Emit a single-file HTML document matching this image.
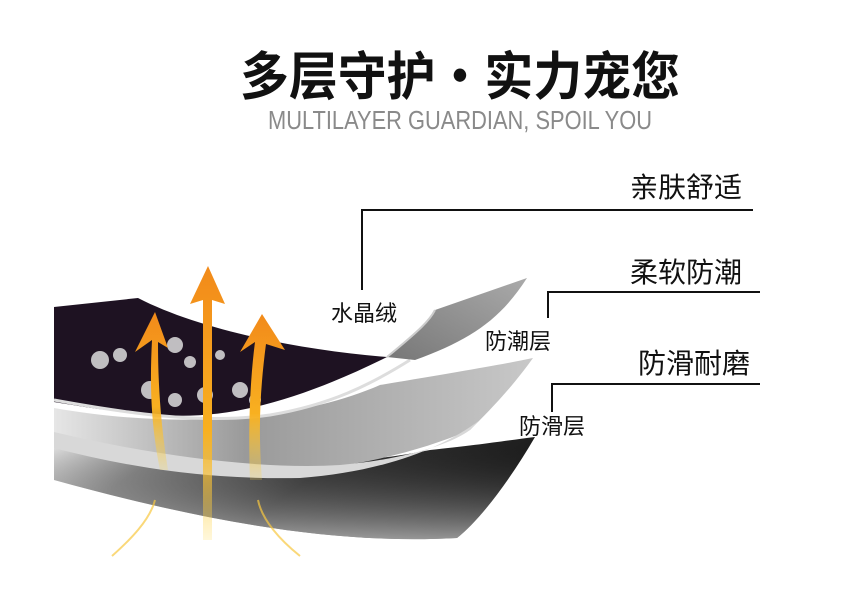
<!DOCTYPE html>
<html><head><meta charset="utf-8"><style>html,body{margin:0;padding:0;background:#fff;width:865px;height:590px;overflow:hidden}</style></head>
<body>
<svg width="865" height="590" viewBox="0 0 865 590" xmlns="http://www.w3.org/2000/svg">
<defs>
<linearGradient id="dk" x1="0" y1="0" x2="1" y2="0.3">
<stop offset="0" stop-color="#f4f4f4"/><stop offset="0.25" stop-color="#888"/><stop offset="0.6" stop-color="#333"/><stop offset="1" stop-color="#1a1a1a"/></linearGradient>
<linearGradient id="dkv" x1="0" y1="0" x2="0" y2="1">
<stop offset="0" stop-color="#000" stop-opacity="0"/><stop offset="1" stop-color="#fff" stop-opacity="0.9"/></linearGradient>
<linearGradient id="mg" x1="0" y1="0" x2="1" y2="0">
<stop offset="0" stop-color="#e6e6e6"/><stop offset="0.4" stop-color="#9a9a9a"/><stop offset="1" stop-color="#c8c8c8"/></linearGradient>
<linearGradient id="fl" x1="0" y1="1" x2="1" y2="0">
<stop offset="0" stop-color="#777"/><stop offset="1" stop-color="#aaa"/></linearGradient>
<linearGradient id="ar" x1="0" y1="1" x2="0" y2="0">
<stop offset="0" stop-color="#ffd84a" stop-opacity="0.2"/><stop offset="0.4" stop-color="#f8b020"/><stop offset="1" stop-color="#f28a1a"/></linearGradient>
</defs>
<text x="240" y="95" textLength="440" lengthAdjust="spacingAndGlyphs" font-family="'Noto Sans CJK SC',sans-serif" font-weight="bold" font-size="52" fill="#111">多层守护•实力宠您</text>
<text x="268" y="129" textLength="384" lengthAdjust="spacingAndGlyphs" font-family="'Liberation Sans',sans-serif" font-size="26" fill="#8a8a8a">MULTILAYER GUARDIAN, SPOIL YOU</text>

<path d="M54 440 C200 470 330 470 430 450 C480 445 510 440 535 437 C510 480 480 520 457 538 C330 545 200 520 54 480 Z" fill="url(#dk)"/>
<path d="M54 440 C200 470 330 470 430 450 C480 445 510 440 535 437 C510 480 480 520 457 538 C330 545 200 520 54 480 Z" fill="url(#dkv)" opacity="0.6"/>
<path d="M54 408 C180 430 300 420 380 385 C440 375 500 365 533 358 C510 390 490 410 470 430 C400 460 300 480 200 470 C140 465 90 452 54 445 Z" fill="url(#mg)"/>
<path d="M54 432 C150 455 260 470 340 465 C400 460 450 445 470 430 L480 420 C440 450 380 472 300 478 C200 480 120 465 54 448 Z" fill="#d8d8d8"/>
<path d="M54 307 L138 298 C200 330 300 350 387 357 C300 400 230 420 160 415 C110 412 80 406 54 402 Z" fill="#1e1222"/>
<path d="M54 400 C120 412 200 425 270 415 C330 405 370 385 410 360" stroke="#ddd" stroke-width="3" fill="none"/>
<path d="M387 357 C420 330 430 320 435 310 L527 278 C500 320 470 340 415 360 Z" fill="url(#fl)"/>
<path d="M387 357 C420 330 430 320 435 310" stroke="#ccc" stroke-width="2" fill="none"/>
<g fill="#ddd" opacity="0.85">
<circle cx="100" cy="360" r="9"/><circle cx="120" cy="355" r="7"/><circle cx="175" cy="345" r="8"/><circle cx="190" cy="362" r="6"/><circle cx="150" cy="390" r="9"/><circle cx="175" cy="400" r="7"/><circle cx="205" cy="395" r="8"/><circle cx="240" cy="390" r="8"/><circle cx="255" cy="400" r="6"/><circle cx="220" cy="355" r="5"/>
</g>
<g fill="url(#ar)">
<path d="M160 470 C150 420 150 380 152 340 L135 352 L155 312 L168 348 L158 342 C158 380 160 420 168 470 Z"/>
<path d="M203 540 L203 300 L190 304 L208 266 L225 304 L212 300 L212 540 Z"/>
<path d="M250 480 C248 430 250 380 255 342 L240 352 L262 314 L285 350 L266 344 C260 390 258 430 262 480 Z"/>
</g>
<path d="M155 500 C150 520 130 540 112 556" stroke="#f8c840" stroke-width="2" fill="none" opacity="0.7"/>
<path d="M258 500 C262 520 280 540 300 556" stroke="#f8c840" stroke-width="2" fill="none" opacity="0.7"/>

<g stroke="#111" stroke-width="2" fill="none">
<path d="M753 210 L362 210 L362 290"/>
<path d="M760 292 L548 292 L548 318"/>
<path d="M760 384 L552 384 L552 412"/>
</g>
<g font-family="'Liberation Sans','Noto Sans CJK SC',sans-serif" fill="#111">
<text x="630" y="197" font-size="28">亲肤舒适</text>
<text x="630" y="282" font-size="28">柔软防潮</text>
<text x="638" y="373" font-size="28">防滑耐磨</text>
<text x="331" y="321" font-size="22">水晶绒</text>
<text x="485" y="349" font-size="22">防潮层</text>
<text x="519" y="434" font-size="22">防滑层</text>
</g>
</svg>
</body></html>
